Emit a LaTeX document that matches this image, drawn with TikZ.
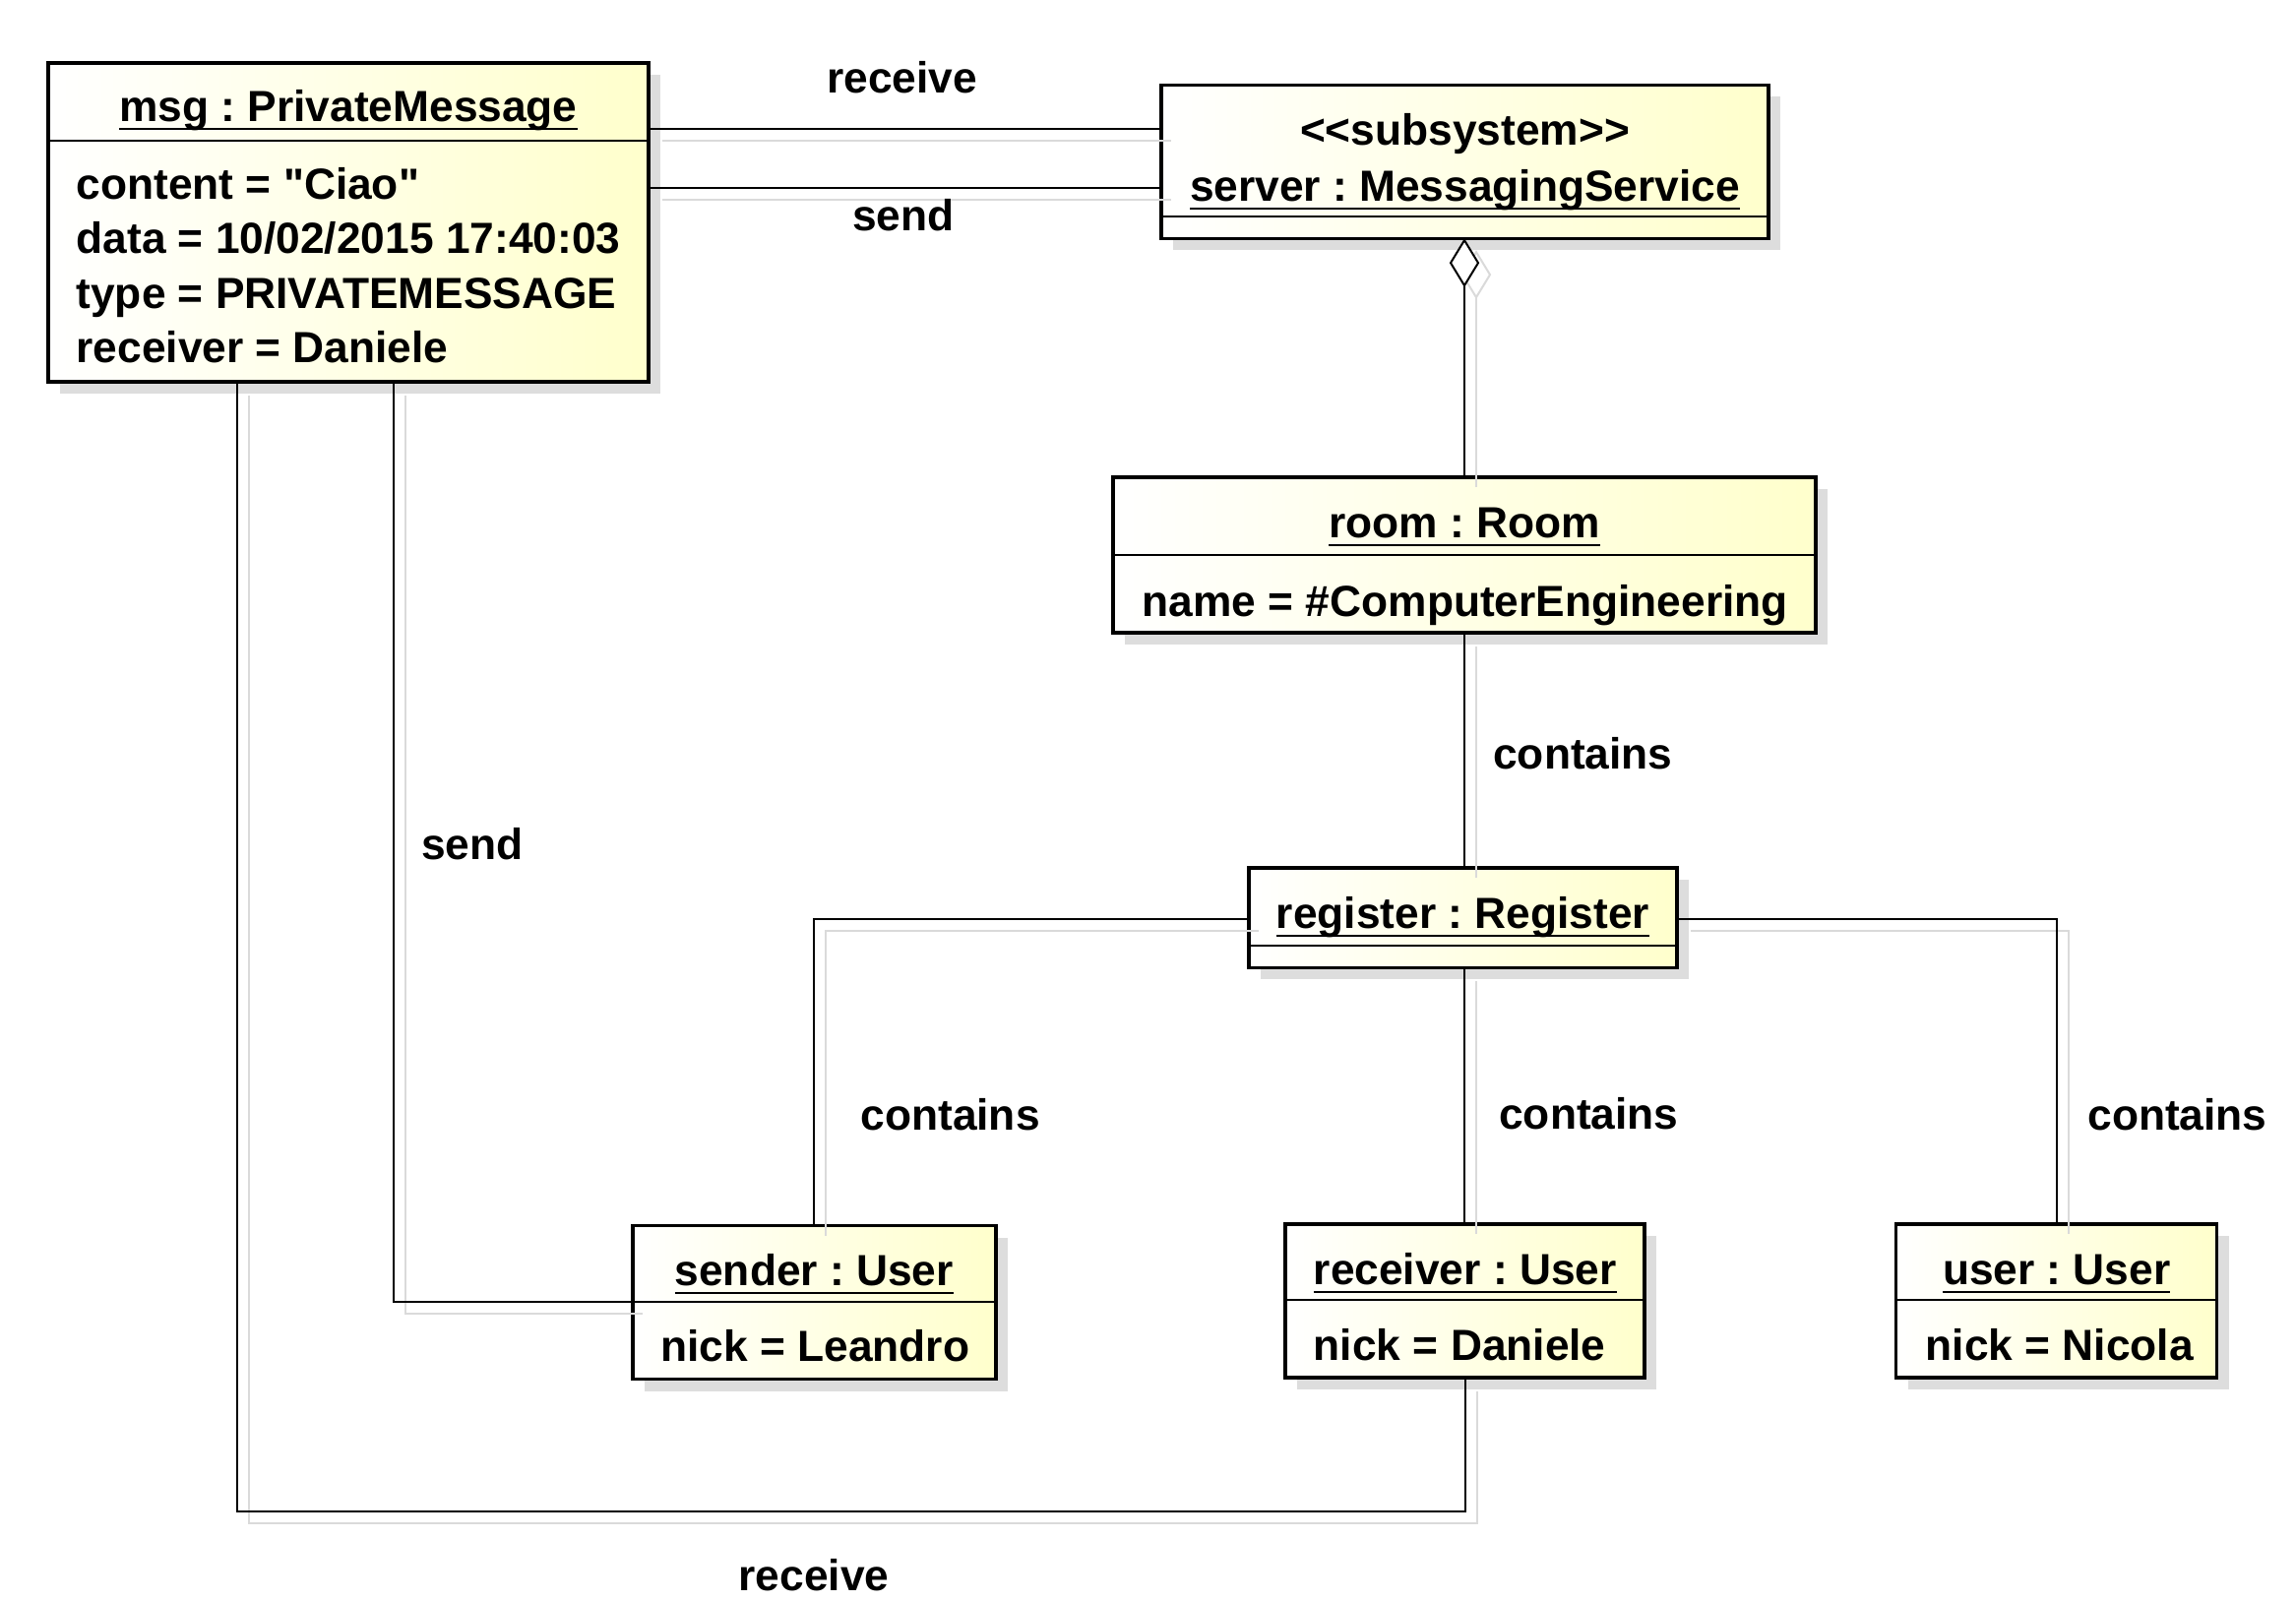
\documentclass[tikz,border=0pt]{standalone}
\usepackage{fontspec}
\newfontfamily\lsans{Liberation Sans}
\usetikzlibrary{shadows}
\definecolor{objy}{RGB}{255,255,204}
\definecolor{boxsh}{RGB}{221,221,221}
\definecolor{linesh}{RGB}{218,218,218}
\newcommand\ulx[1]{\setbox0\hbox{#1}\rlap{\rule[-9pt]{\wd0}{2.2pt}}\box0}
\newcommand\cnx[1]{\draw[lsh] #1; \draw[ln] #1;}
\frenchspacing
\begin{document}
\begin{tikzpicture}[x=1pt,y=-1pt,
  every node/.style={font=\lsans\bfseries\frenchspacing\fontsize{44.3}{55.5}\selectfont, inner sep=0pt},
  objbox/.style={draw, line width=3.5pt, left color=white, right color=objy,
    drop shadow={shadow xshift=12pt, shadow yshift=-12pt, fill=boxsh, opacity=1}, rectangle},
  sepline/.style={line width=2pt},
  title/.style={anchor=base},
  attr/.style={anchor=base west},
  lbl/.style={anchor=base},
  ln/.style={line width=2pt},
  lsh/.style={line width=2pt, draw=linesh, transform canvas={xshift=12pt,yshift=-12pt}},
]
\useasboundingbox (0,0) rectangle (2333,1626);
\fill[white] (0,0) rectangle (2333,1626);

% boxes
\node[objbox, minimum width=610, minimum height=324] (msg) at (354,226) {};
\node[objbox, minimum width=617, minimum height=156] (server) at (1488.5,164.4) {};
\node[objbox, minimum width=714, minimum height=158] (room) at (1488,564) {};
\node[objbox, minimum width=435, minimum height=101.5] (register) at (1486.5,932.7) {};
\node[objbox, minimum width=369, minimum height=156] (sender) at (827.3,1323.5) {};
\node[objbox, minimum width=365, minimum height=156] (receiver) at (1488.7,1322) {};
\node[objbox, minimum width=326, minimum height=156] (user) at (2089.7,1322) {};

% compartment separators
\draw[sepline] (msg.west |- 0,142.8) -- (msg.east |- 0,142.8);
\draw[sepline] (server.west |- 0,220) -- (server.east |- 0,220);
\draw[sepline] (room.west |- 0,564) -- (room.east |- 0,564);
\draw[sepline] (register.west |- 0,961) -- (register.east |- 0,961);
\draw[sepline] (sender.west |- 0,1322.7) -- (sender.east |- 0,1322.7);
\draw[sepline] (receiver.west |- 0,1321) -- (receiver.east |- 0,1321);
\draw[sepline] (user.west |- 0,1321) -- (user.east |- 0,1321);

% texts
\node[title] (msgT) at (354,123) {\ulx{msg : PrivateMessage}};
\node[attr] (msgA1) at (77.4,202) {content = "Ciao"};
\node[attr] (msgA2) at (77.4,257.5) {data = 10/02/2015 17:40:03};
\node[attr] (msgA3) at (77.4,313) {type = PRIVATEMESSAGE};
\node[attr] (msgA4) at (77.4,368.5) {receiver = Daniele};

\node[title] (serverS) at (1488.5,147) {<<subsystem>>};
\node[title] (serverT) at (1488.5,204) {\ulx{server : MessagingService}};

\node[title] (roomT) at (1488,546) {\ulx{room : Room}};
\node[attr] (roomA) at (1160.6,626) {name = \#ComputerEngineering};

\node[title] (registerT) at (1486.5,943) {\ulx{register : Register}};

\node[title] (senderT) at (827.3,1306) {\ulx{sender : User}};
\node[attr] (senderA) at (671,1383) {nick = Leandro};

\node[title] (receiverT) at (1488.7,1305) {\ulx{receiver : User}};
\node[attr] (receiverA) at (1334.7,1382) {nick = Daniele};

\node[title] (userT) at (2089.7,1305) {\ulx{user : User}};
\node[attr] (userA) at (1956.6,1382) {nick = Nicola};

% connectors
\cnx{(msg.east |- 0,131) -- (server.west |- 0,131)}
\cnx{(msg.east |- 0,190.5) -- (server.west |- 0,190.5)}

\draw[lsh] (server.south -| 1488,0) -- ++(14,23) -- ++(-14,23) -- ++(-14,-23) -- cycle;
\draw[ln, fill=white] (server.south -| 1488,0) -- ++(14,23) -- ++(-14,23) coordinate (aggB) -- ++(-14,-23) -- cycle;
\cnx{(aggB) -- (room.north -| 1488,0)}

\cnx{(room.south -| 1488,0) -- (register.north -| 1488,0)}
\cnx{(register.west |- 0,934.4) -| (sender.north)}
\cnx{(register.south -| 1488,0) -- (receiver.north -| 1488,0)}
\cnx{(register.east |- 0,934.4) -| (user.north)}
\cnx{(msg.south -| 400,0) |- (sender.west |- 0,1322.7)}
\coordinate (rcvCorner) at (241,1535.5);
\cnx{(msg.south -| 241,0) -- (rcvCorner) -| (receiver.south)}

% labels
\node[lbl] (l1) at (916.5,94) {receive};
\node[lbl] (l2) at (918,234) {send};
\node[lbl] (l3) at (1608.4,781) {contains};
\node[lbl] (l4) at (965.6,1148) {contains};
\node[lbl] (l5) at (1614.4,1147) {contains};
\node[lbl] (l6) at (2212.5,1148) {contains};
\node[lbl] (l7) at (480,873) {send};
\node[lbl] (l8) at (827,1616) {receive};
\end{tikzpicture}
\end{document}
